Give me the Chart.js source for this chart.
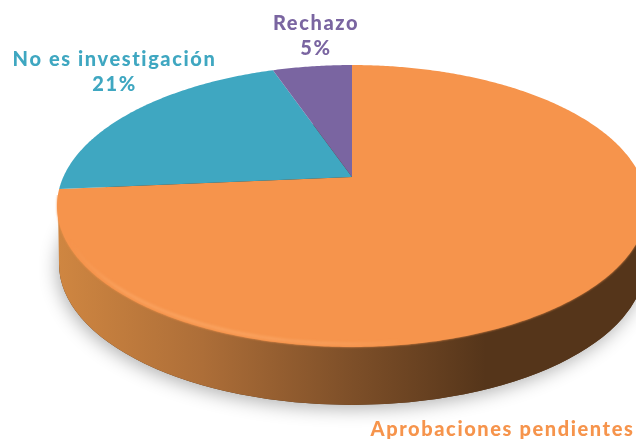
<!DOCTYPE html>
<html><head><meta charset="utf-8">
<style>html,body{margin:0;padding:0;background:#fff}#w{width:636px;height:440px;position:relative;overflow:hidden}</style>
<script src="https://cdn.jsdelivr.net/npm/chart.js@4"></script></head>
<body><div id="w"><canvas id="c" width="636" height="440"></canvas></div>
<script>
const categories = ["Aprobaciones pendientes", "No es investigación", "Rechazo"];
const values = [73.6, 21.1, 5.3];
const sliceColors = ["#f6944c", "#3fa7c1", "#7a65a1"];
const labelColors = ["#f6944c", "#3fa7c1", "#7a65a1"];
const labelCentres = [[502.5, 436], [114.5, 66], [316, 30]];

// perspective projection of the unit pie onto the tilted top face
const AX = 352, AY = 177, R = 288.7, A = 98.6, C = -0.2057, DEPTH = 58;
const EX = 352, EY = 206, ERX = 295, ERY = 141;
function project(theta) {            // chart angle (0 = +x, clockwise)
  const u = Math.cos(theta), v = Math.sin(theta), d = C * v + 1;
  return [AX + R * u / d, (A * v + AY) / d];
}
function wedge(ctx, start, end) {
  ctx.beginPath(); ctx.moveTo(AX, AY);
  const n = Math.max(2, Math.ceil((end - start) / 0.01));
  for (let i = 0; i <= n; i++) { const p = project(start + (end - start) * i / n); ctx.lineTo(p[0], p[1]); }
  ctx.closePath();
}
const pie3d = {
  id: 'pie3d',
  beforeDatasetDraw(chart) {
    const ctx = chart.ctx, arcs = chart.getDatasetMeta(0).data;
    // body + soft shadow
    ctx.save();
    ctx.shadowColor = 'rgba(0,0,0,0.30)'; ctx.shadowBlur = 18; ctx.shadowOffsetX = -2; ctx.shadowOffsetY = 4;
    ctx.fillStyle = '#55351a';
    ctx.beginPath(); ctx.ellipse(EX, EY + DEPTH, ERX - 2, ERY, 0, 0, Math.PI * 2); ctx.fill();
    ctx.restore();
    const g = ctx.createLinearGradient(58, 0, 636, 0);
    g.addColorStop(0, '#cf8641'); g.addColorStop(0.25, '#ad6e38'); g.addColorStop(0.5, '#7f5029');
    g.addColorStop(0.74, '#55351a'); g.addColorStop(1, '#55351a');
    ctx.fillStyle = g;
    ctx.beginPath();
    ctx.moveTo(EX - ERX + 1, EY);
    ctx.lineTo(EX - ERX + 2, EY + DEPTH);
    ctx.ellipse(EX, EY + DEPTH, ERX - 2, ERY, 0, Math.PI, 0, true);
    ctx.lineTo(EX + ERX, EY);
    ctx.closePath(); ctx.fill();
    // top face soft edge on the front half only
    ctx.save();
    ctx.beginPath(); ctx.rect(0, 195, 636, 245); ctx.clip();
    ctx.filter = 'blur(1px)';
    ctx.fillStyle = '#f6944c';
    ctx.beginPath(); ctx.ellipse(EX, EY, ERX, ERY, 0, 0, Math.PI * 2); ctx.fill();
    ctx.restore();
    // slices
    arcs.forEach(a => {
      const p = a.getProps(['startAngle', 'endAngle'], true);
      ctx.fillStyle = a.options.backgroundColor;
      wedge(ctx, p.startAngle, p.endAngle); ctx.fill();
    });
    // light bevel along the front-left rim
    ctx.save();
    const b = ctx.createLinearGradient(70, 0, 420, 0);
    b.addColorStop(0, 'rgba(255,178,115,0)'); b.addColorStop(0.15, 'rgba(255,178,115,0.7)'); b.addColorStop(0.7, 'rgba(255,178,115,0.65)'); b.addColorStop(1, 'rgba(255,178,115,0)');
    ctx.strokeStyle = b; ctx.lineWidth = 2; ctx.filter = 'blur(1.5px)';
    ctx.beginPath(); ctx.ellipse(EX, EY - 2, ERX - 3, ERY - 1, 0, Math.PI * 0.95, Math.PI * 0.45, true); ctx.stroke();
    ctx.restore();
    return false;
  },
  afterDraw(chart) {
    const ctx = chart.ctx;
    ctx.save();
    ctx.textAlign = 'center'; ctx.textBaseline = 'alphabetic';
    ctx.font = '900 20px Lato'; ctx.letterSpacing = '1.6px';
    categories.forEach((t, i) => {
      ctx.fillStyle = labelColors[i];
      const [x, y] = labelCentres[i];
      ctx.fillText(t, x, y);
      if (i > 0) ctx.fillText(Math.round(values[i]) + '%', x, y + 25);
    });
    ctx.restore();
  }
};
new Chart(document.getElementById('c'), {
  type: 'pie',
  data: { labels: categories, datasets: [{ data: values, backgroundColor: sliceColors, borderWidth: 0 }] },
  options: { responsive: false, animation: false, plugins: { legend: { display: false }, tooltip: { enabled: false } } },
  plugins: [pie3d]
});
</script></body></html>
